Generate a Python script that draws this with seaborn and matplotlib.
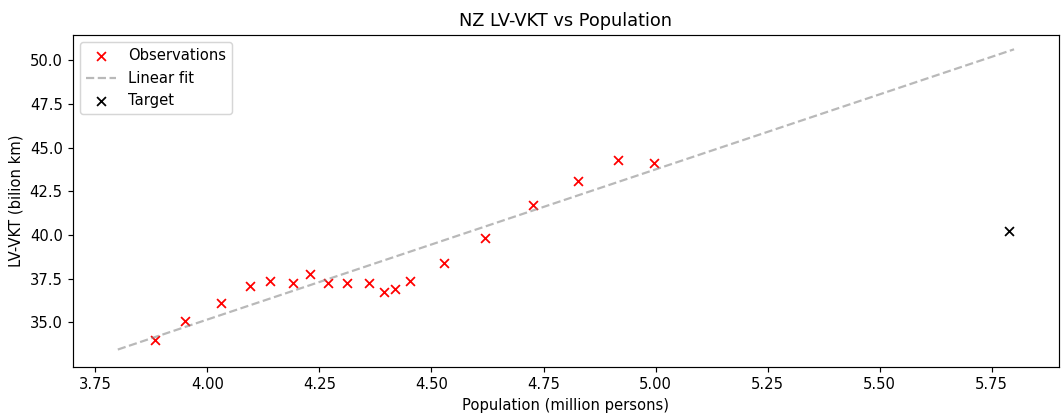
import numpy as np
import pandas as pd
import matplotlib
matplotlib.use("Agg")
import matplotlib.pyplot as plt
import seaborn as sns

population = [3.882, 3.951, 4.031, 4.094, 4.139, 4.190, 4.228, 4.268, 4.311, 4.360,
              4.393, 4.418, 4.452, 4.527, 4.619, 4.726, 4.827, 4.916, 4.997]
lv_vkt = [33.97, 35.06, 36.14, 37.06, 37.40, 37.23, 37.80, 37.23, 37.23, 37.23,
          36.77, 36.89, 37.40, 38.38, 39.81, 41.70, 43.07, 44.27, 44.10]
target_pop = [5.788]
target_vkt = [40.21]
fit_pop = [3.8, 5.8]
fit_vkt = [33.45, 50.63]

DPI = 106.5
fig = plt.figure(figsize=(1061 / DPI, 414 / DPI), dpi=DPI)
ax = fig.add_subplot(111)
fig.subplots_adjust(left=0.0688, right=0.998, top=0.9155, bottom=0.1135)

obs = pd.DataFrame({"x": population, "y": lv_vkt})
sns.scatterplot(data=obs, x="x", y="y", marker="x", color="red", s=36,
                linewidth=1.2, label="Observations", ax=ax)
fit = pd.DataFrame({"x": fit_pop, "y": fit_vkt})
sns.lineplot(data=fit, x="x", y="y", color="grey", alpha=0.55, linestyle="--",
             label="Linear fit", ax=ax)
tgt = pd.DataFrame({"x": target_pop, "y": target_vkt})
sns.scatterplot(data=tgt, x="x", y="y", marker="x", color="black", s=36,
                linewidth=1.2, label="Target", ax=ax)

ax.set_xlim(3.7, 5.9)
ax.set_ylim(32.45, 51.45)
ax.set_xticks([3.75, 4.0, 4.25, 4.5, 4.75, 5.0, 5.25, 5.5, 5.75])
ax.set_yticks([35.0, 37.5, 40.0, 42.5, 45.0, 47.5, 50.0])
ax.set_xticklabels(["3.75", "4.00", "4.25", "4.50", "4.75", "5.00", "5.25", "5.50", "5.75"])
ax.set_yticklabels(["35.0", "37.5", "40.0", "42.5", "45.0", "47.5", "50.0"])
ax.set_title("NZ LV-VKT vs Population")
ax.set_xlabel("Population (million persons)")
ax.set_ylabel("LV-VKT (bilion km)")
ax.legend(loc="upper left")

fig.savefig("out.png", dpi=DPI)
